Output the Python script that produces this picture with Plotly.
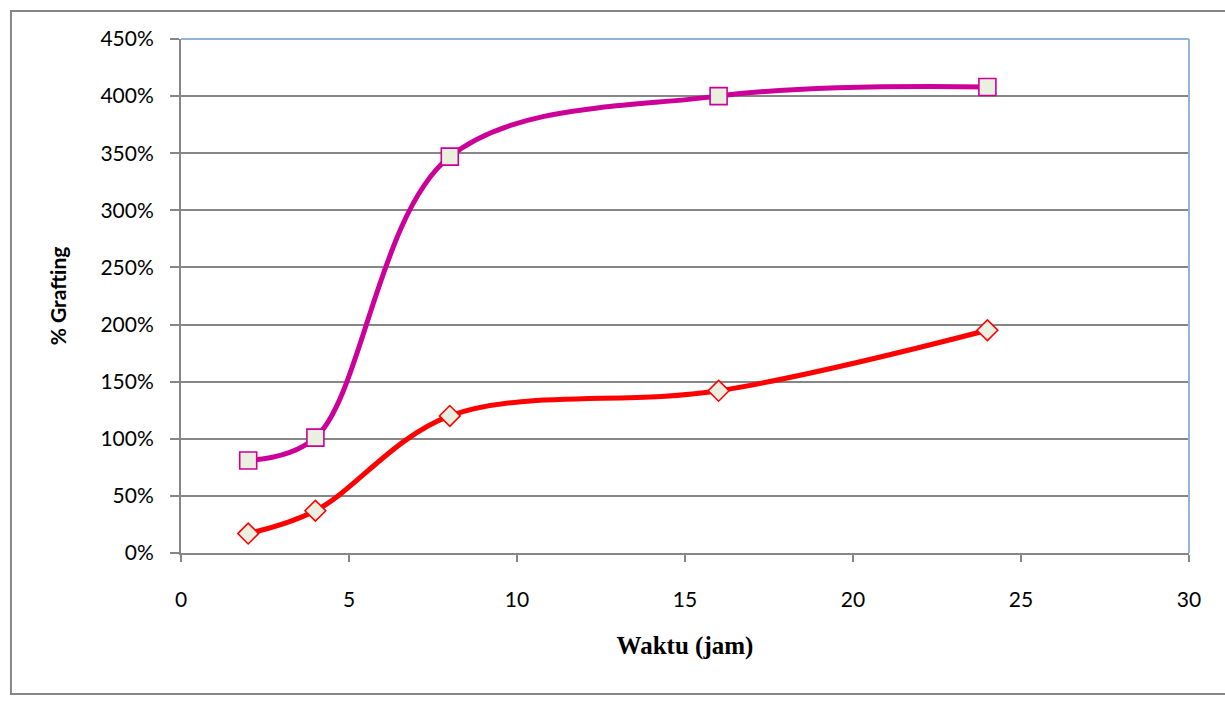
import plotly.graph_objects as go

# Reaction time (hours)
waktu = [2, 4, 8, 16, 24]

# Grafting percentage for the two series (in %)
grafting_atas = [81, 101, 347, 400, 408]
grafting_bawah = [17, 37, 120, 142, 195]

y_ticks = [0, 50, 100, 150, 200, 250, 300, 350, 400, 450]
y_tick_text = [f"{v}%" for v in y_ticks]
x_ticks = [0, 5, 10, 15, 20, 25, 30]

marker_fill = "#EBEFE0"
grid_gray = "#868686"
border_blue = "#95B3D7"

fig = go.Figure()

fig.add_trace(go.Scatter(
    x=waktu, y=grafting_atas, mode="lines+markers",
    line=dict(color="#CC0099", width=5, shape="spline", smoothing=1.0),
    marker=dict(symbol="square", size=17, color=marker_fill,
                line=dict(color="#CC0099", width=1.6)),
    showlegend=False,
))

fig.add_trace(go.Scatter(
    x=waktu, y=grafting_bawah, mode="lines+markers",
    line=dict(color="#FF0000", width=5, shape="spline", smoothing=1.0),
    marker=dict(symbol="diamond", size=16, color=marker_fill,
                line=dict(color="#FF0000", width=1.6)),
    showlegend=False,
))

tick_font = dict(family="Lato, Carlito, sans-serif", size=21, color="#000000")

fig.update_layout(
    width=1225, height=702,
    margin=dict(l=181, r=36, t=39, b=149),
    paper_bgcolor="white", plot_bgcolor="white",
    xaxis=dict(
        range=[0, 30], tickvals=x_ticks, ticktext=[str(v) for v in x_ticks],
        showgrid=False, zeroline=False,
        showline=True, linecolor=grid_gray, linewidth=2,
        ticks="outside", ticklen=7, tickwidth=2, tickcolor=grid_gray,
        tickfont=tick_font, ticklabelstandoff=20,
        title=dict(text="<b>Waktu (jam)</b>",
                   font=dict(family="Liberation Serif, Times New Roman, serif",
                             size=25, color="#000000"),
                   standoff=26),
    ),
    yaxis=dict(
        range=[0, 450], tickvals=y_ticks, ticktext=y_tick_text,
        showgrid=True, gridcolor=grid_gray, gridwidth=1.6,
        zeroline=False,
        showline=True, linecolor=grid_gray, linewidth=2,
        ticks="outside", ticklen=9, tickwidth=2, tickcolor=grid_gray,
        tickfont=tick_font, ticklabelstandoff=12,
        title=dict(text="<b>% Grafting</b>",
                   font=dict(family="Lato, Carlito, sans-serif",
                             size=21, color="#000000"),
                   standoff=28),
    ),
)

# Light blue top and right edges of the plotting area
fig.add_shape(type="line", xref="paper", yref="paper", x0=0, x1=1, y0=1, y1=1,
              line=dict(color=border_blue, width=2))
fig.add_shape(type="line", xref="paper", yref="paper", x0=1, x1=1, y0=0, y1=1,
              line=dict(color=border_blue, width=2))

# Outer chart frame
fig.add_shape(type="rect", xref="paper", yref="paper",
              x0=-0.1687, x1=1.06, y0=-0.2743, y1=1.0545,
              line=dict(color=grid_gray, width=2), layer="below")

fig.write_html("out.html")
